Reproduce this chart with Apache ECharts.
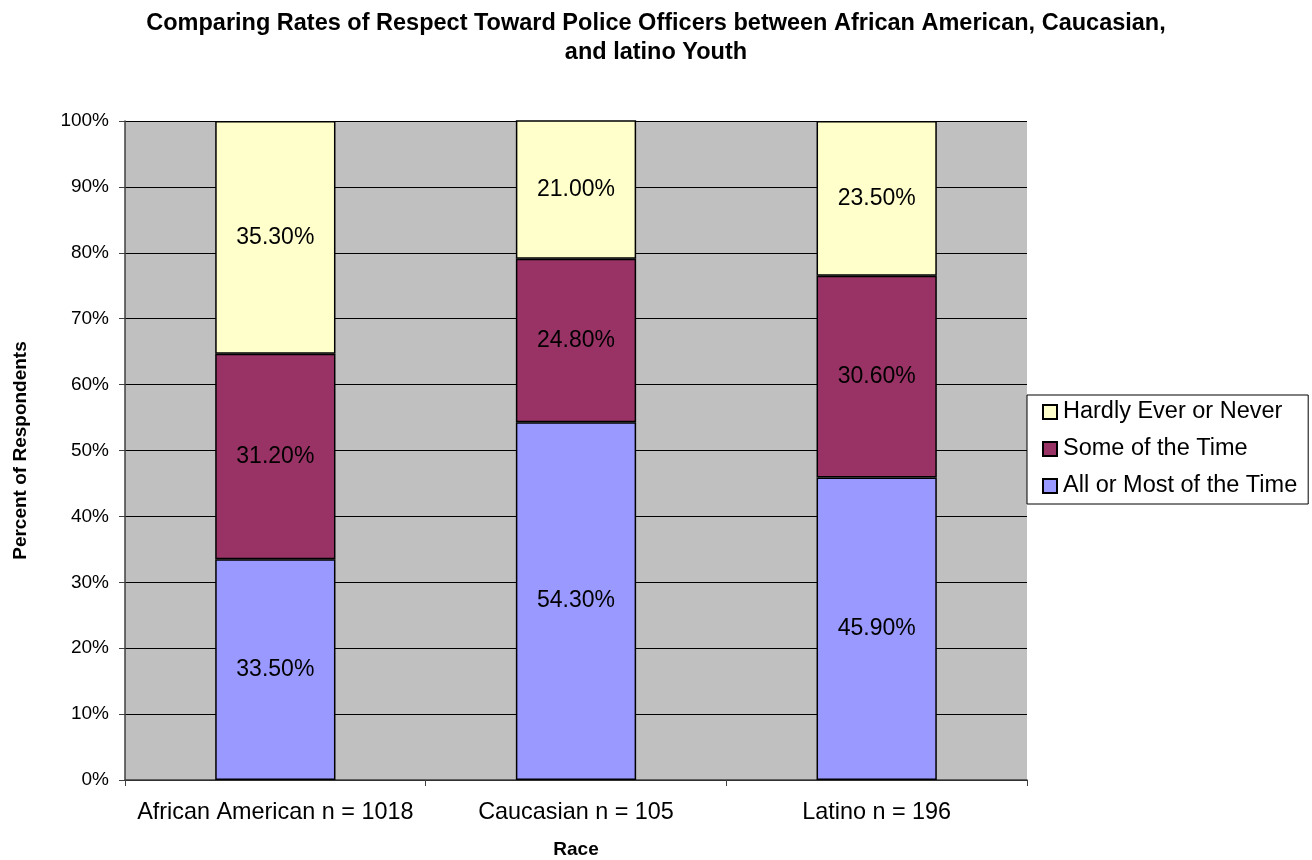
<!DOCTYPE html>
<html>
<head>
<meta charset="utf-8">
<script src="https://cdn.jsdelivr.net/npm/echarts@6/dist/echarts.min.js"></script>
<style>
html, body { margin: 0; padding: 0; background: #fff; }
#chart { width: 1312px; height: 860px; }
</style>
</head>
<body>
<div id="chart"></div>
<script>
// categories and values
const races = ['African American n = 1018', 'Caucasian n = 105', 'Latino n = 196'];
const allOrMost = [33.5, 54.3, 45.9];
const someTime = [31.2, 24.8, 30.6];
const hardlyEver = [35.3, 21.0, 23.5];
const yTicks = [0, 10, 20, 30, 40, 50, 60, 70, 80, 90, 100];

const font = 'Arial, "Liberation Sans", sans-serif';

const chart = echarts.init(document.getElementById('chart'));

function barSeries (name, data, color) {
  return {
    name: name,
    type: 'bar',
    stack: 'all',
    data: data,
    barCategoryGap: '60%',
    itemStyle: { color: color, borderColor: '#000', borderWidth: 1.5 },
    label: {
      show: true,
      position: 'inside',
      color: '#000',
      fontFamily: font,
      fontSize: 23,
      formatter: p => p.value.toFixed(2) + '%'
    },
    emphasis: { disabled: true }
  };
}

chart.setOption({
  animation: false,
  title: {
    text: 'Comparing Rates of Respect Toward Police Officers between African American, Caucasian,\nand latino Youth',
    left: 651,
    textAlign: 'center',
    top: 4,
    textStyle: { fontFamily: font, fontSize: 23.5, fontWeight: 'bold', color: '#000', lineHeight: 29 }
  },
  legend: {
    orient: 'vertical',
    left: 1027,
    top: 395,
    data: ['Hardly Ever or Never', 'Some of the Time', 'All or Most of the Time'],
    icon: 'rect',
    itemWidth: 14,
    itemHeight: 14,
    itemGap: 13,
    padding: [5, 11, 6, 15],
    borderColor: '#000',
    borderWidth: 1,
    backgroundColor: '#fff',
    textStyle: { fontFamily: font, fontSize: 23.5, color: '#000', padding: [0, 0, 0, 1] }
  },
  grid: { left: 125, right: 285, top: 121, bottom: 80, outerBoundsMode: 'none',
          show: true, backgroundColor: '#C0C0C0', borderWidth: 0 },
  xAxis: {
    type: 'category',
    data: races,
    name: 'Race',
    nameLocation: 'middle',
    nameGap: 60,
    nameTextStyle: { fontFamily: font, fontSize: 19, fontWeight: 'bold', color: '#000' },
    axisLine: { lineStyle: { color: '#404040', width: 1.5 } },
    axisTick: { show: true, alignWithLabel: false, length: 6, lineStyle: { color: '#404040' } },
    axisLabel: { fontFamily: font, fontSize: 23.4, color: '#000', margin: 21, interval: 0, hideOverlap: false }
  },
  yAxis: {
    type: 'value',
    min: yTicks[0],
    max: yTicks[yTicks.length - 1],
    interval: yTicks[1] - yTicks[0],
    name: 'Percent of Respondents',
    nameLocation: 'middle',
    nameGap: 95,
    nameTextStyle: { fontFamily: font, fontSize: 19, fontWeight: 'bold', color: '#000' },
    axisLine: { show: true, lineStyle: { color: '#404040', width: 1.5 } },
    axisTick: { show: true, length: 6, lineStyle: { color: '#404040' } },
    splitLine: { show: true, lineStyle: { color: '#000', width: 1 } },
    axisLabel: { fontFamily: font, fontSize: 19, color: '#000', margin: 16, formatter: '{value}%' }
  },
  series: [
    barSeries('All or Most of the Time', allOrMost, '#9999FF'),
    barSeries('Some of the Time', someTime, '#993366'),
    barSeries('Hardly Ever or Never', hardlyEver, '#FFFFCC')
  ]
});
</script>
</body>
</html>
